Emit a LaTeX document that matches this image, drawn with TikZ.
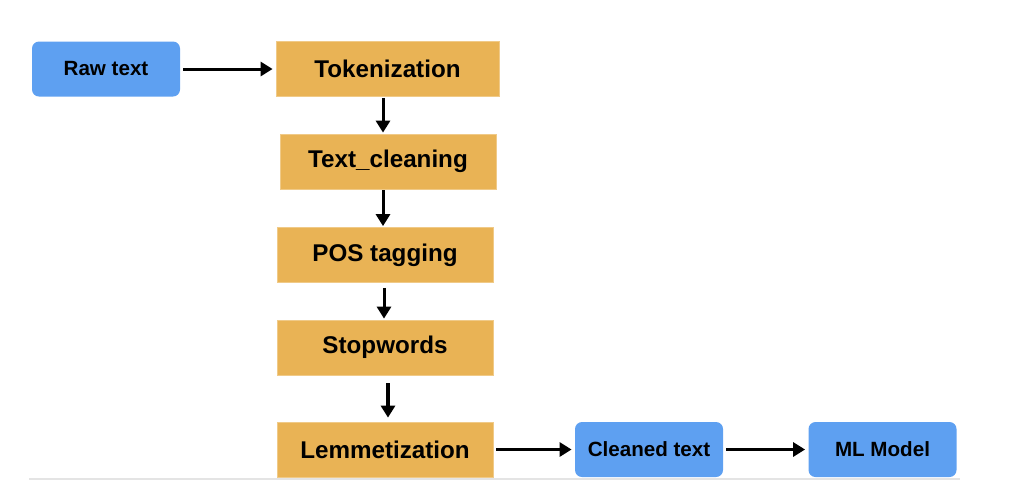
\documentclass[tikz,border=0pt]{standalone}
\usepackage{fontspec}
\setmainfont{Liberation Sans}
\usetikzlibrary{arrows.meta}
\definecolor{inblue}{RGB}{94,160,241}
\definecolor{stepgold}{RGB}{233,179,85}
\definecolor{rulegrey}{RGB}{228,228,228}
\begin{document}
\begin{tikzpicture}[x=0.5pt,y=-0.5pt,
    io/.style={fill=inblue,rounded corners=3.5pt,minimum width=74pt,minimum height=27.5pt,inner sep=0pt,font=\fontsize{10.3}{12}\selectfont\bfseries},
    stage/.style={fill=stepgold,draw=stepgold!70!white,line width=0.4pt,minimum width=108pt,minimum height=27.5pt,inner sep=0pt,font=\fontsize{12.1}{14}\selectfont\bfseries},
    flow/.style={-{Triangle[length=6pt,width=7pt]},line width=1.5pt,shorten <=1.5pt,shorten >=1.5pt}]
          \useasboundingbox (0,0) rectangle (1022,500);
          \draw[rulegrey,line width=0.6pt] (29,479) -- (960,479);
          \node[io] at (106,69) (raw) {Raw text};
          \node[stage,minimum width=111.5pt] at (387.5,69) (tok) {Tokenization};
          \node[stage] at (388,161.5) (clean) {Text\_cleaning};
          \node[stage] at (385,255) (pos) {POS tagging};
          \node[stage] at (385,347.5) (stop) {Stopwords};
          \node[stage] at (385,449.5) (lem) {Lemmetization};
          \node[io] at (649,449.5) (cleaned) {Cleaned text};
          \node[io] at (882.5,449.5) (ml) {ML Model};
          \path[flow] (raw) edge (tok);
          \path[flow,shorten <=0.5pt,shorten >=0.5pt] (tok.south -| 383,0) edge (clean.north -| 383,0);
          \path[flow,shorten <=0.5pt,shorten >=0.5pt] (clean.south -| 383,0) edge (pos.north -| 383,0);
          \path[flow,shorten <=2.5pt,shorten >=0.5pt] (pos.south -| 384,0) edge (stop.north -| 384,0);
          \path[flow,line width=2pt,shorten <=4pt,shorten >=2pt] (stop.south -| 388,0) edge (lem.north -| 388,0);
          \path[flow] (lem) edge (cleaned);
          \path[flow] (cleaned) edge (ml);
        \end{tikzpicture}
\end{document}
